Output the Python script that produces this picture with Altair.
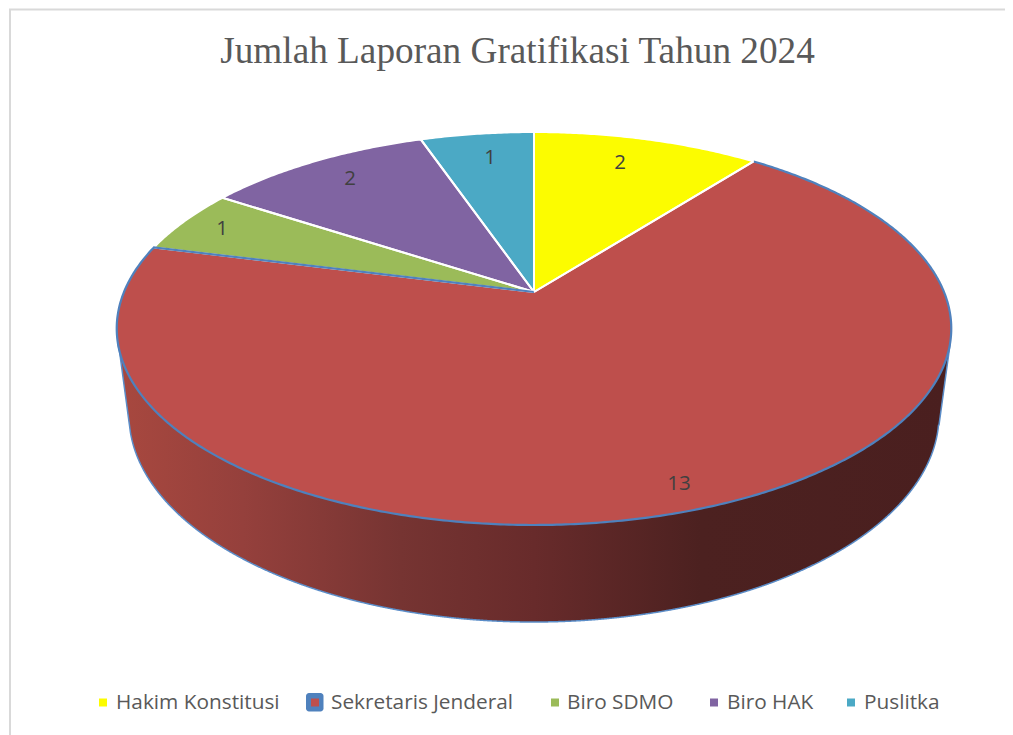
import numpy as np
import pandas as pd
import altair as alt

categories = ["Hakim Konstitusi", "Sekretaris Jenderal", "Biro SDMO", "Biro HAK", "Puslitka"]
values = [2, 13, 1, 2, 1]
colors = ["#FCFC00", "#BE4F4C", "#9BBB59", "#8064A2", "#4BA9C5"]
chart_title = "Jumlah Laporan Gratifikasi Tahun 2024"

# --- layout (page pixels) ---
APEX_X, APEX_Y = 534.0, 292.0
A, B, K = 410.0, 189.7, 0.1858
label_xy = [(620, 163), (679, 484), (222, 229), (350, 179), (490, 158)]
legend_marker_x = [103, 315, 555, 714, 851]
legend_text_x = [116, 331, 567, 727, 864]
LEGEND_Y = 702.5


def project(theta_deg):
    t = np.radians(theta_deg)
    u, v = np.sin(t), np.cos(t)
    w = 1 + K * v
    return APEX_X + A * u / w, APEX_Y - B * v / w


total = sum(values)
edges = np.concatenate([[0], np.cumsum(values)]) * 360.0 / total

fills, lines = [], []
for i, name in enumerate(categories):
    th = np.arange(edges[i], edges[i + 1] + 0.25, 0.5)
    th[-1] = edges[i + 1]
    px, py = project(th)
    xs = np.concatenate([[APEX_X], px, [APEX_X]])
    ys = np.concatenate([[APEX_Y], py, [APEX_Y]])
    fills.append(pd.DataFrame({"x": xs, "y": ys, "name": name, "i": np.arange(len(xs))}))
    if name != "Sekretaris Jenderal":
        lines.append(pd.DataFrame({"x": xs, "y": ys, "name": name, "i": np.arange(len(xs))}))
fill_df = pd.concat(fills)
white_df = pd.concat(lines)

# blue outline of the big slice: outer arc plus its left radius
th = np.arange(edges[1], edges[2] + 0.25, 0.5)
th[-1] = edges[2]
px, py = project(th)
blue_df = pd.DataFrame({
    "x": np.concatenate([px, [APEX_X]]),
    "y": np.concatenate([py, [APEX_Y]]),
    "i": np.arange(len(px) + 1),
})
# white radial between the big slice and first slice
px0, py0 = project(np.array([edges[1]]))
white2_df = pd.DataFrame({"x": [APEX_X, px0[0]], "y": [APEX_Y, py0[0]], "i": [0, 1]})

# wall of the disc
CY_TOP, RY_TOP, RX_TOP = 328.5, 196.5, 417.3
CY_BOT, RY_BOT, RX_BOT = 415.0, 207.0, 405.0
wx = np.arange(118.0, 950.25, 0.5)
wall_top = CY_TOP + RY_TOP * np.sqrt(np.clip(1 - ((wx - APEX_X) / RX_TOP) ** 2, 0, None))
ell = CY_BOT + RY_BOT * np.sqrt(np.clip(1 - ((wx - APEX_X) / RX_BOT) ** 2, 0, None))
ell[np.abs(wx - APEX_X) >= RX_BOT] = 1e4
left_line = 340 + (wx - 118) * (433 - 340) / (130.5 - 118)
right_line = 352 + (949 - wx) * (436 - 352) / (949 - 937.5)
wall_bot = np.minimum(np.minimum(ell, left_line), right_line)
wall_bot = np.maximum(wall_bot, wall_top)
wall_df = pd.DataFrame({"x": wx, "y": wall_top, "y2": wall_bot, "i": np.arange(len(wx))})

label_df = pd.DataFrame({
    "x": [p[0] for p in label_xy],
    "y": [p[1] for p in label_xy],
    "value": [str(v) for v in values],
})
legend_df = pd.DataFrame({
    "name": categories,
    "mx": legend_marker_x,
    "tx": legend_text_x,
    "y": [LEGEND_Y] * 5,
})
badge_df = pd.DataFrame({"x": [306], "x2": [323.5], "y": [693], "y2": [711.5]})
border_df = pd.DataFrame({"x": [10, 10, 1005], "y": [735, 9.5, 9.5], "i": [0, 1, 2]})
title_df = pd.DataFrame({"x": [517.5], "y": [52], "text": [chart_title]})

x_scale = alt.Scale(domain=[8, 1005], nice=False, zero=False)
y_scale = alt.Scale(domain=[735, 8], nice=False, zero=False)
X = alt.X("x:Q", scale=x_scale, axis=None)
Y = alt.Y("y:Q", scale=y_scale, axis=None)
color_scale = alt.Scale(domain=categories, range=colors)

border = alt.Chart(border_df).mark_line(color="#D9D9D9", strokeWidth=2).encode(x=X, y=Y, order="i:Q")
title_mark = alt.Chart(title_df).mark_text(
    font="Liberation Serif", fontSize=37.25, color="#595959"
).encode(x=X, y=Y, text="text:N")

wall = alt.Chart(wall_df).mark_area(
    color=alt.Gradient(
        gradient="linear", x1=0, x2=1, y1=0, y2=0,
        stops=[
            alt.GradientStop(offset=0, color="#A8483F"),
            alt.GradientStop(offset=0.15, color="#95403C"),
            alt.GradientStop(offset=0.34, color="#763432"),
            alt.GradientStop(offset=0.5, color="#682B2B"),
            alt.GradientStop(offset=0.7, color="#4C2120"),
            alt.GradientStop(offset=1, color="#4A1F1F"),
        ],
    )
).encode(x=X, y=Y, y2="y2:Q")
wall_line = alt.Chart(wall_df).mark_line(color="#5B8DC8", strokeWidth=1.5).encode(
    x=X, y=alt.Y("y2:Q", scale=y_scale, axis=None), order="i:Q"
)

slices = alt.Chart(fill_df).mark_line(strokeWidth=0, interpolate="linear").encode(
    x=X, y=Y, fill=alt.Fill("name:N", scale=color_scale, legend=None), detail="name:N", order="i:Q"
)
white_edges = alt.Chart(white_df).mark_line(color="#FFFFFF", strokeWidth=2).encode(x=X, y=Y, detail="name:N", order="i:Q")
white_edges2 = alt.Chart(white2_df).mark_line(color="#FFFFFF", strokeWidth=2).encode(x=X, y=Y, order="i:Q")
blue_edge = alt.Chart(blue_df).mark_line(color="#4F81BD", strokeWidth=2.2).encode(x=X, y=Y, order="i:Q")

labels = alt.Chart(label_df).mark_text(font="Open Sans", fontSize=20.5, color="#404040").encode(x=X, y=Y, text="value:N")

badge = alt.Chart(badge_df).mark_rect(color="#4F81BD", cornerRadius=3).encode(x=X, x2="x2:Q", y=Y, y2="y2:Q")
legend_marks = alt.Chart(legend_df).mark_point(shape="square", filled=True, size=64, opacity=1).encode(
    x=alt.X("mx:Q", scale=x_scale, axis=None),
    y=Y,
    color=alt.Color("name:N", scale=color_scale, legend=None),
)
legend_text = alt.Chart(legend_df).mark_text(font="Open Sans", fontSize=20.8, color="#595959", align="left").encode(
    x=alt.X("tx:Q", scale=x_scale, axis=None),
    y=Y,
    text="name:N",
)

chart = alt.layer(
    border, title_mark, wall, wall_line, slices, white_edges, blue_edge, white_edges2, labels, badge, legend_marks, legend_text
).properties(
    width=997,
    height=727,
    padding=0,
    autosize=alt.AutoSizeParams(type="none"),
).configure_view(stroke=None)

chart.save("out.html", embed_options={"renderer": "svg", "actions": False})
